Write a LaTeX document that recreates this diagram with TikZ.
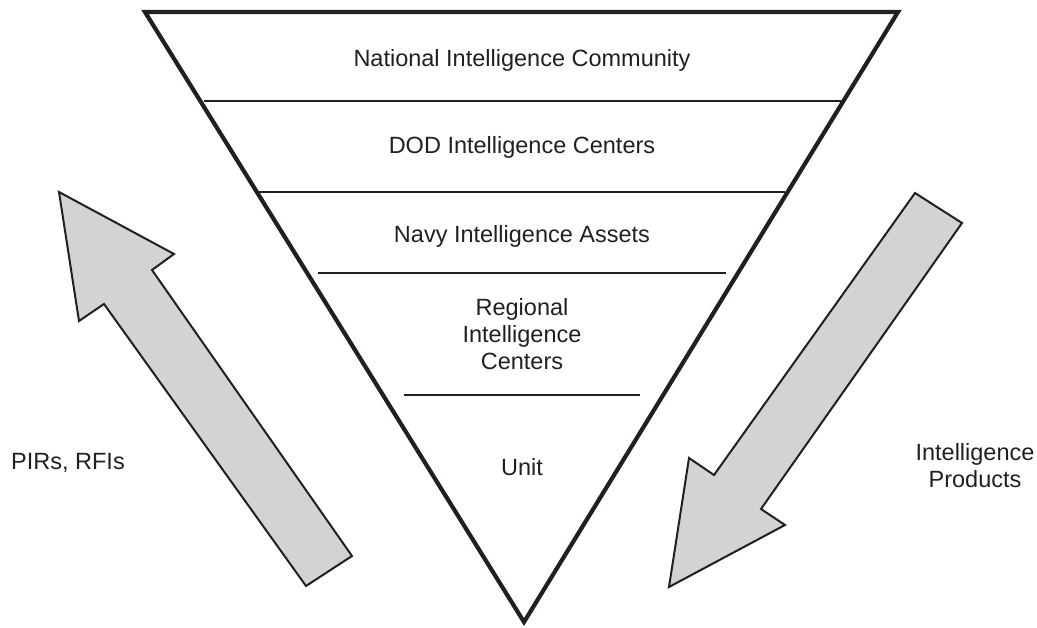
\documentclass[tikz,border=0pt]{standalone}
\usepackage{fontspec}
\setmainfont{Liberation Sans}
\definecolor{ink}{HTML}{231F20}
\definecolor{arrowfill}{HTML}{D1D3D4}
\begin{document}
\begin{tikzpicture}[x=1pt,y=-1pt,
  lbl/.style={text=ink,font=\fontsize{23.5}{27}\selectfont,align=center,inner sep=0pt},
  tri/.style={draw=ink,line width=4.2pt,line join=miter},
  tier/.style={draw=ink,line width=2.6pt},
  fatarrow/.style={draw=ink,fill=arrowfill,line width=2pt,line join=miter}]
\useasboundingbox (0,0) rectangle (1037,628);
% funnel
\coordinate (tl) at (145,12);
\coordinate (tr) at (898,12);
\coordinate (apex) at (524,622);
\draw[tri] (tl) -- (tr) -- (apex) -- cycle;
% tier lines
\draw[tier] (204,101) -- (841,101);
\draw[tier] (258,192) -- (785,192);
\draw[tier] (318,273) -- (726,273);
\draw[tier] (404,395) -- (640,395);
% labels
\node[lbl] (nic) at (522,60) {National Intelligence Community};
\node[lbl] (dod) at (522,147) {DOD Intelligence Centers};
\node[lbl] (navy) at (522,236) {Navy Intelligence Assets};
\node[lbl] (ric) at (522,334) {Regional\\Intelligence\\Centers};
\node[lbl] (unit) at (522,467) {Unit};
\node[lbl] (pir) at (68,463) {PIRs, RFIs};
\node[lbl] (prod) at (975,466) {Intelligence\\Products};
% up arrow
\draw[fatarrow] (59,192) -- (174,254) -- (152,270) -- (352,556) -- (306,586) -- (104,304) -- (79,321) -- cycle;
% down arrow
\draw[fatarrow] (915,193) -- (962,223) -- (761,509) -- (785,525) -- (669,587) -- (689,458) -- (714,475) -- cycle;
\end{tikzpicture}
\end{document}
